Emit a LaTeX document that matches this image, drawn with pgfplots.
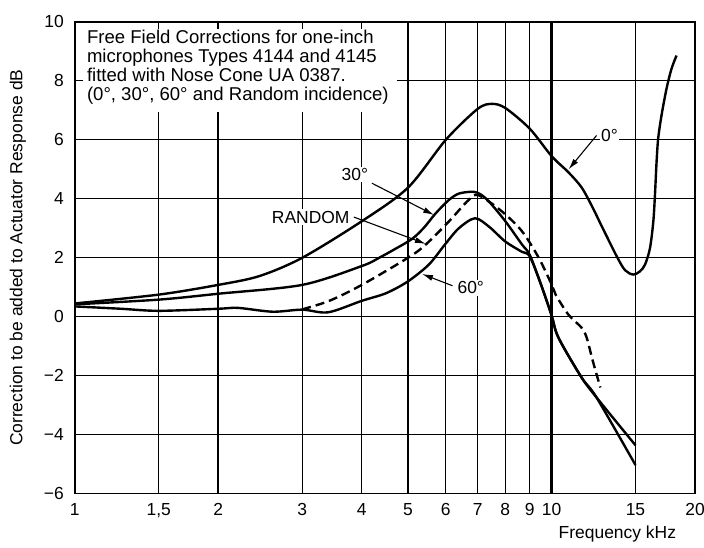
\documentclass[border=0pt]{standalone}
\usepackage{fontspec}
\setmainfont{Liberation Sans}
\usepackage{pgfplots}
\pgfplotsset{compat=1.18}
\usetikzlibrary{arrows.meta}

\begin{document}
\fontsize{17.5}{20}\selectfont
\begin{tikzpicture}
\begin{axis}[
  scale only axis, width=622pt, height=473pt,
  xmode=log,
  xmin=1, xmax=20, ymin=-6, ymax=10,
  xtick={1,1.5,2,3,4,5,6,7,8,9,10,15,20},
  xticklabels={1,{1,5},2,3,4,5,6,7,8,9,10,15,20},
  minor xtick={},
  ytick={-6,-4,-2,0,2,4,6,8,10},
  yticklabels={−6,−4,−2,0,2,4,6,8,10},
  extra x ticks={2,10},
  extra x tick labels={},
  extra x tick style={major grid style={black, line width=2.3pt}},
  grid=major,
  major grid style={black, line width=1.1pt},
  major tick length=0pt,
  axis line style={black, line width=1.8pt},
  /pgf/number format/assume math mode=true,
  xticklabel style={yshift=-1pt, text height=1.6ex, text depth=0.3ex},
  yticklabel style={xshift=-5pt},
  ylabel={Correction to be added to Actuator Response dB},
  ylabel style={at={(axis description cs:-0.0916,0.5)}, anchor=center},
  clip mode=individual,
  every axis plot/.append style={black, line width=2.4pt},
]

% white panel behind the caption text
\fill[white] (axis cs:1.04,6.95) rectangle (axis cs:4.75,9.75);
\node[anchor=north west, align=left, inner sep=0pt,
      font=\fontsize{18.6}{19}\selectfont] at (axis cs:1.06,9.74)
  {Free Field Corrections for one-inch\\
   microphones Types 4144 and 4145\\
   fitted with Nose Cone UA 0387.\\
   (0°, 30°, 60° and Random incidence)};

% 0 deg
\addplot[smooth, tension=0.5] coordinates {
  (1,0.45)(1.5,0.75)(2,1.08)(2.44,1.38)(3,2.0)(4,3.24)(5,4.38)(6,6.0)
  (7,7.05)(7.5,7.22)(8,7.08)(9,6.38)(10,5.45)(10.85,4.9)(11.57,4.38)
  (12.2,3.7)(12.7,3.12)(13.7,2.05)(14.26,1.58)(14.84,1.43)(15.33,1.54)
  (15.71,1.77)(16.09,2.33)(16.35,3.23)(16.48,4.13)(16.61,5.26)(16.74,6.05)
  (17.01,6.83)(17.43,7.74)(17.85,8.41)(18.29,8.86)
};
% 30 deg
\addplot[smooth, tension=0.5] coordinates {
  (1,0.42)(1.5,0.58)(2,0.78)(3,1.08)(4,1.72)(4.35,2.0)(4.7,2.3)(5.1,2.64)
  (5.4,3.02)(5.71,3.5)(6.09,3.96)(6.4,4.18)(6.85,4.24)(7.1,4.15)(7.4,3.9)
  (8,3.24)(8.67,2.45)(9,2.1)(9.5,1.1)(10,0.05)(10.34,-0.71)(11.56,-2.06)
  (12.43,-2.74)(15,-4.36)
};
% 60 deg
\addplot[smooth, tension=0.5] coordinates {
  (1,0.35)(1.25,0.27)(1.5,0.2)(2,0.27)(2.2,0.3)(2.6,0.17)(3,0.24)(3.4,0.15)
  (4,0.54)(4.5,0.8)(5,1.2)(5.53,1.77)(5.97,2.44)(6.39,3.0)(6.91,3.34)
  (7.4,3.05)(8,2.55)(8.67,2.2)(9,2.05)(9.5,1.1)(10,0.05)(10.34,-0.71)
  (11.56,-2.06)(12.43,-2.74)(15,-5.03)
};
% random incidence
\addplot[smooth, tension=0.5, dash pattern=on 9pt off 5pt] coordinates {
  (3,0.25)(3.42,0.54)(4,1.08)(5,2.0)(5.44,2.44)(6.09,3.23)(6.7,3.96)
  (7.03,4.12)(7.86,3.58)(8.67,2.9)(9.4,2.0)(10,1.1)(10.2,0.75)(10.85,0.07)
  (11.56,-0.37)(11.85,-0.71)(12.2,-1.49)(12.66,-2.4)
};

% labels and arrows
\tikzset{lbl/.style={fill=white, inner sep=1.5pt},
         arr/.style={black, line width=1.1pt, -{Latex[length=11pt,width=6pt]}}}
\node[lbl, anchor=west] at (axis cs:12.6,6.15) {0°};
\draw[arr] (axis cs:12.43,6.15) -- (axis cs:10.86,5.0);
\node[lbl] at (axis cs:3.87,4.83) {30°};
\draw[arr] (axis cs:4.2,4.53) -- (axis cs:5.67,3.45);
\node[lbl, anchor=east] at (axis cs:3.8,3.38) {RANDOM};
\draw[arr] (axis cs:3.85,3.38) -- (axis cs:5.45,2.47);
\node[lbl] at (axis cs:6.77,0.98) {60°};
\draw[arr] (axis cs:6.2,1.05) -- (axis cs:5.35,1.45);

\node[anchor=east] at ([shift={(-13pt,-40pt)}]rel axis cs:1,0) {Frequency kHz};
\end{axis}
\pgfresetboundingbox
\path ([shift={(-75pt,-54pt)}]current axis.south west)
  rectangle ([shift={(9pt,22pt)}]current axis.north east);
\end{tikzpicture}
\end{document}
